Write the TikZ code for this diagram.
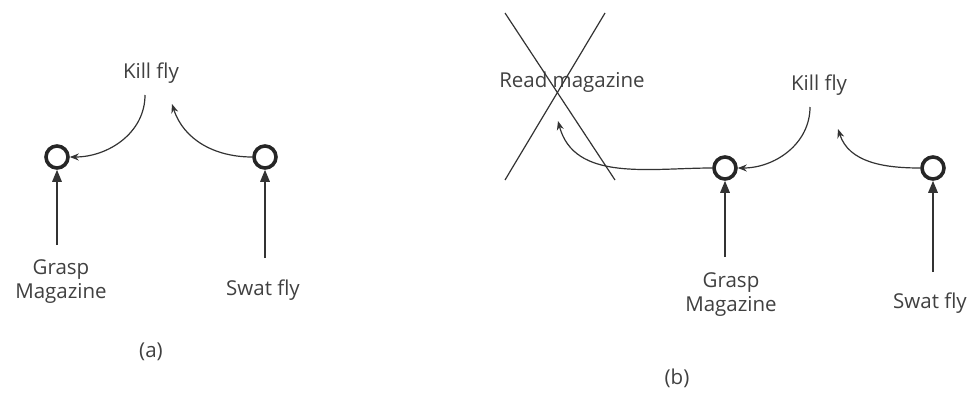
\documentclass[tikz,border=0pt]{standalone}
\usepackage{fontspec}
\setmainfont{Open Sans}
\usepackage{tikz}
\usetikzlibrary{arrows.meta,positioning}

\begin{document}
\begin{tikzpicture}[
  x=1pt, y=-1pt,
  font=\fontsize{20.5}{24}\selectfont,
  lbl/.style={text=black!75, align=center, inner sep=2pt},
  gate/.style={circle, draw=black!85, line width=3.6pt, minimum size=22pt, inner sep=0pt},
  push/.style={-{Triangle[length=12pt, width=9.5pt]}, line width=1.6pt, draw=black!80},
  pull/.style={-{Stealth[length=9pt, width=7pt]}, line width=1.2pt, draw=black!80},
  cross/.style={line width=1.2pt, draw=black!80}
]
\useasboundingbox (0,0) rectangle (969,399);

% (a)
\node[lbl] (kfa) at (151,73) {Kill fly};
\node[gate] (ca) at (57,157) {};
\node[gate] (cb) at (265,157) {};
\node[lbl] (gma) at (61,282) {Grasp\\Magazine};
\node[lbl] (swa) at (263,290) {Swat fly};
\node[lbl] (capa) at (151,352) {(a)};
\coordinate (kfa-o) at (145,95);
\coordinate (kfa-i) at (172,104);
\coordinate (gma-o) at (57,245);
\coordinate (swa-o) at (265,258);

\draw[pull] (kfa-o) to[out=-90, in=0] (ca);
\draw[pull] (cb) to[out=180, in=-72] (kfa-i);
\draw[push] (gma-o) -- (ca);
\draw[push] (swa-o) -- (cb);

% (b)
\node[lbl] (rm) at (572,82) {Read magazine};
\node[lbl] (kfb) at (819,85) {Kill fly};
\node[gate] (cc) at (725,168) {};
\node[gate] (cd) at (933,168) {};
\node[lbl] (gmb) at (731,295) {Grasp\\Magazine};
\node[lbl] (swb) at (930,303) {Swat fly};
\node[lbl] (capb) at (677,378) {(b)};
\coordinate (kfb-o) at (810,107);
\coordinate (kfb-i) at (838,129);
\coordinate (rm-i) at (558,121);
\coordinate (gmb-o) at (725,257);
\coordinate (swb-o) at (933,272);

\draw[pull] (kfb-o) to[out=-90, in=0] (cc);
\draw[pull] (cd) to[out=180, in=-72] (kfb-i);
\draw[pull] (cc) to[out=180, in=-75] (rm-i);
\draw[push] (gmb-o) -- (cc);
\draw[push] (swb-o) -- (cd);

% crossed out
\draw[cross] (505,13) -- (615,180);
\draw[cross] (605,13) -- (505,180);
\end{tikzpicture}
\end{document}
